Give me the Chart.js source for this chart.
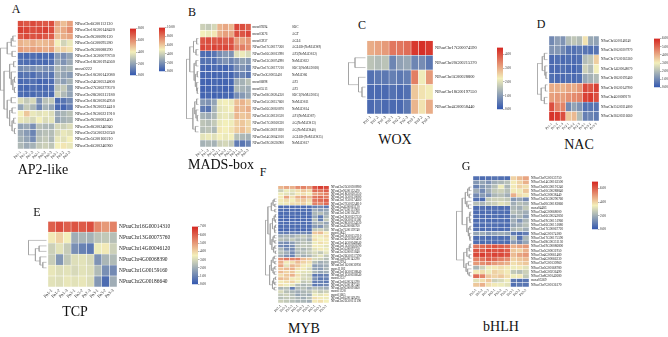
<!DOCTYPE html>
<html><head><meta charset="utf-8">
<script src="https://cdn.jsdelivr.net/npm/chart.js@4"></script>
<style>
html,body{margin:0;padding:0;background:#fff;width:668px;height:337px;overflow:hidden;position:relative;font-family:"Liberation Serif",serif;}
canvas{position:absolute;}
.t{position:absolute;transform:translate(-50%,-50%);white-space:nowrap;color:#111;line-height:1;font-family:"Liberation Serif",serif;}
</style></head><body>
<script>
// ---------- DATA ----------
const COLS = ["Pn1-1","Pn1-2","Pn1-3","Pn2-1","Pn2-2","Pn2-3","Pn3-1","Pn3-2","Pn3-3"];

const A_rows = ["NPuuChr6G00112130","NPuuChr10G00148420","NPuuChr9G00090120","NPuuChr5G00095280","NPuuChr9G00088290","NPuuChr13G00079730","NPuuChr18G00194560","moss0222","NPuuChr10G00142080","NPuuChr24G00534800","NPuuChr27G00279570","NPuuChr28G00312180","NPuuChr18G00204950","NPuuChr19G00224410","NPuuChr19G00221910","NPuuChr9G00083400","NPuuChr8G00246940","NPuuChr25G00326740","NPuuChr5G00160210","NPuuChr6G00246960"];
const A_vals = [
[7.2,7.0,7.3,7.1,7.0,7.2,5.5,5.0,5.6],[7.5,7.4,7.2,7.3,7.5,7.2,5.2,5.4,6.0],[7.0,7.3,7.1,7.2,7.0,6.9,5.0,5.3,5.5],
[5.2,5.0,5.3,5.0,5.1,5.3,4.0,3.3,3.8],[5.6,5.4,5.6,5.5,5.3,5.6,4.5,4.6,4.3],[0.6,0.5,0.6,0.5,0.6,0.5,1.8,1.5,2.0],
[0.7,0.6,0.5,0.6,0.5,0.7,2.0,1.6,2.2],[1.4,1.6,1.5,1.8,1.5,1.4,2.6,2.2,2.5],[0.7,0.8,0.6,1.0,1.0,0.8,2.3,2.0,1.8],
[0.5,0.6,0.7,0.4,0.5,0.6,2.2,1.9,2.4],[0.5,0.4,0.6,0.5,0.5,0.6,2.8,3.0,2.0],[0.6,0.5,0.5,0.7,0.6,0.5,3.2,2.6,2.0],
[3.5,3.0,3.4,1.5,2.8,3.0,0.6,0.8,1.3],[2.0,3.0,2.5,1.2,2.4,2.0,0.5,0.4,1.0],[4.0,4.8,3.8,3.6,3.8,3.5,2.2,2.5,2.8],
[3.8,3.6,3.4,4.0,3.5,3.7,2.0,2.4,2.6],[2.0,2.2,1.5,2.8,2.6,2.5,3.4,3.2,3.5],[2.2,1.8,1.2,2.6,2.8,2.7,3.4,3.8,3.6],
[2.4,2.0,1.4,2.8,3.0,2.6,3.8,3.6,4.0],[2.6,2.2,2.4,3.0,3.2,2.9,4.0,4.2,3.8]];
const A_tree = [[[[0,1,.2],2,.3],[3,4,.25],.55],[[[5,6,.15],[7,[[8,9,.1],[10,11,.1],.2],.3],.4],[[12,13,.3],[[14,15,.25],[[16,17,.15],[18,19,.1],.25],.4],.55],.75],.98];

const B_rows = ["moss09394","moss03676","moss03937","NPuuChr17G00177260","NPuuChr16G00013990","NPuuChr13G00074990","NPuuChr17G00177210","NPuuChr3G00053410","moss06898","moss05513","NPuuChr18G00204350","NPuuChr15G00157660","NPuuChr16G00050870","NPuuChr13G00130520","NPuuChr17G00168330","NPuuChr18G00191820","NPuuChr14G00043010","NPuuChr19G00226900"];
const B_genes = ["SOC","AGT","AGL6","AGL6B-(NoMADS9)","AP3(NoMADS12)","NoMADS22","SOC1(NoMADS18)","NoMADS6","AP3","AP3","SOC1(NoMADS15)","NoMADS11","NoMADS14","AP1(NoMADS7)","AG(NoMADS13)","AG(NoMADS40)","AGL6B-(NoMADS25)","NoMADS17"];
const B_vals = [
[4.0,3.8,4.2,6.5,6.8,6.4,9.2,9.0,8.6],[5.0,4.8,5.2,6.6,7.0,6.8,9.0,8.8,9.2],[8.8,9.0,8.7,8.9,8.6,8.8,7.0,6.8,7.2],
[9.2,9.0,9.3,9.1,9.2,9.0,7.6,7.8,7.4],[0.8,0.7,1.0,1.8,2.2,2.0,4.5,4.8,4.3],[0.9,1.0,0.8,1.6,2.0,1.5,2.0,2.5,2.2],
[0.6,0.5,0.7,0.6,0.5,0.8,1.8,2.0,1.5],[0.5,0.6,0.5,0.6,0.7,0.5,1.2,1.5,1.0],[0.5,0.4,0.6,0.5,0.5,0.6,2.8,3.0,3.5],
[0.4,0.5,0.5,0.6,0.4,0.5,3.2,3.0,2.8],[0.5,0.6,0.4,0.5,0.6,0.5,1.8,2.2,2.6],[2.2,2.0,2.5,4.8,5.0,4.8,6.2,6.5,6.0],
[1.2,1.0,3.0,4.6,4.8,5.0,6.5,6.3,6.6],[3.0,2.8,3.2,4.6,4.8,4.5,6.4,6.0,6.2],[3.6,3.4,3.8,4.8,5.0,4.9,5.8,6.0,5.6],
[3.4,3.6,3.2,5.2,5.0,5.3,5.9,6.2,5.7],[4.6,4.8,4.5,5.0,4.8,5.0,3.5,3.2,3.0],[3.0,3.2,3.0,4.0,4.2,3.8,1.2,1.0,1.5]];
const B_tree = [[[[0,1,.15],[2,3,.2],.4],[[4,5,.2],[[6,7,.1],[8,[9,10,.1],.15],.25],.35],.7],[[[11,12,.15],[13,[14,15,.1],.2],.3],[16,17,.25],.45],.98];

const C_rows = ["NPuuChr17G00074590","NPuuChr20G00215370","NPuuChr3G00028800","NPuuChr18G00197550","NPuuChr4G00058440"];
const C_vals = [
[3.0,3.1,3.2,3.6,3.6,3.7,4.3,4.4,4.3],[1.6,1.5,1.6,0.7,1.1,1.2,0.7,0.8,0.5],[0.4,0.5,0.5,0.6,0.5,0.6,3.5,2.2,3.2],
[0.3,0.3,0.3,0.4,0.3,0.4,2.7,2.4,2.3],[0.3,0.4,0.3,0.3,0.3,0.5,2.9,2.4,3.0]];
const C_tree = [[0,1,.6],[2,[3,4,.2],.4],.98];

const D_rows = ["NPuuChr5G00148240","NPuuChr20G00207970","NPuuChr17G00165360","NPuuChr14G00048070","NPuuChr18G00193460","NPuuChr10G00147900","NPuuChr4G00089170","NPuuChr25G00314800","NPuuChr26G00316660"];
const D_vals = [
[1.0,1.4,1.2,2.0,2.2,2.0,3.2,1.6,1.5],[1.2,1.3,1.0,0.6,0.5,0.7,0.6,0.5,0.6],[0.4,0.5,0.4,0.5,0.4,0.5,2.0,2.2,3.5],
[0.4,0.4,0.5,0.4,0.3,0.5,2.4,2.0,3.0],[0.5,0.4,0.4,0.5,0.4,0.5,1.6,1.8,2.0],[4.0,4.0,3.9,4.1,4.0,4.3,5.5,5.3,5.6],
[4.2,4.3,4.2,4.4,4.5,4.6,5.6,5.7,5.4],[5.4,4.6,4.6,1.0,1.5,1.2,0.5,0.6,0.6],[5.8,5.7,5.4,3.6,3.8,2.0,0.8,0.9,0.7]];
const D_tree = [[[0,1,.3],[2,[3,4,.15],.25],.5],[[5,6,.2],[7,8,.3],.6],.98];

const E_rows = ["NPuuChr16G00014310","NPuuChr13G00075760","NPuuChr14G00046120","NPuuChr4G00068390","NPuuChr1G00159160","NPuuChr2G00186640"];
const E_vals = [
[6.0,6.3,6.0,6.2,6.1,6.3,5.3,5.0,5.4],[3.6,4.0,3.5,2.0,2.2,2.1,2.5,2.6,2.4],[2.8,3.2,2.7,1.3,1.0,0.8,3.4,3.6,2.8],
[2.7,1.5,2.6,3.1,3.2,3.0,1.4,2.2,2.3],[3.3,3.1,3.2,3.0,3.2,3.1,2.3,1.3,1.2],[3.2,3.1,3.3,3.2,3.3,3.1,1.5,0.5,2.0]];
const E_tree = [0,[[1,2,.4],[3,[4,5,.2],.35],.6],.98];

const F_rows = ["NPuuChr25G00300980","NPuuChr9G00132470","NPuuChr18G00203250","NPuuChr13G00130080","NPuuChr17G00174660","NPuuChr27G00324810",
"NPuuChr4G00061120","NPuuChr7G00131900","NPuuChr1G00156470","NPuuChr19G00227230","NPuuChr20G00211580","NPuuChr28G00334230","NPuuChr4G00066760","NPuuChr7G00139740",
"moss03843","NPuuChr10G00152210","NPuuChr24G00285400","NPuuChr14G00048040","NPuuChr15G00160590","NPuuChr5G00097250","NPuuChr3G00031840","NPuuChr26G00317390",
"NPuuChr8G00143290","moss02294","NPuuChr11G00030950","moss11182","NPuuChr16G00238840","NPuuChr12G00036040","moss02537",
"NPuuChr6G00241290","NPuuChr2G00187340","NPuuChr9G00091660","moss01328","moss01665","NPuuChr6G00149470","NPuuChr22G00112190"];
const F_vals = [
[4.5,4.8,4.6,5.2,5.4,5.0,6.2,6.6,6.4],[2.8,3.4,3.2,3.8,4.2,3.9,5.8,5.6,6.0],[3.4,3.2,3.0,3.6,3.8,3.5,4.8,5.0,5.4],
[3.6,4.8,3.8,4.6,4.8,4.4,5.6,5.8,5.5],[3.6,3.8,3.5,4.0,4.2,3.8,5.6,5.8,6.0],[3.4,3.6,3.8,3.8,4.0,3.6,5.4,5.2,5.8],
[0.5,0.6,0.5,0.6,0.5,0.6,1.0,1.2,0.8],[0.6,0.5,0.6,0.5,0.6,0.5,2.0,1.6,1.8],[0.5,0.5,0.6,0.5,0.5,0.6,2.2,2.4,2.0],
[0.4,0.5,0.4,0.5,0.5,0.4,1.8,0.8,2.2],[0.5,0.4,0.5,0.4,0.5,0.5,2.4,1.0,2.6],[0.6,0.5,0.6,0.6,0.5,0.6,2.0,2.2,1.8],
[0.5,0.6,0.5,0.5,0.6,0.5,1.6,1.4,2.2],[0.4,0.4,0.5,0.4,0.4,0.5,2.6,2.8,2.4],[1.0,0.9,1.1,1.0,1.2,1.0,4.2,4.4,3.6],
[2.0,2.2,2.0,2.4,2.6,2.2,3.6,3.4,3.8],[2.4,2.2,2.6,2.2,2.4,2.0,3.8,3.5,3.6],[1.4,1.2,1.6,2.2,2.5,2.4,3.4,3.8,3.6],
[1.2,1.0,1.3,2.4,2.6,2.5,3.6,3.4,3.2],[2.2,1.3,1.2,2.4,2.2,2.5,3.2,3.6,3.4],[2.4,2.0,1.2,2.2,2.4,2.6,3.0,2.6,3.2],
[2.0,1.4,1.0,2.4,2.0,2.2,2.8,3.2,2.6],[5.2,5.6,5.4,5.4,4.4,4.2,3.0,2.8,2.4],[4.6,3.6,3.8,4.4,4.0,3.8,2.4,2.0,2.2],
[4.8,3.2,4.5,4.2,3.6,3.4,1.6,1.8,2.0],[4.2,4.4,4.6,3.8,3.6,3.0,1.8,1.6,2.2],[4.4,4.0,4.2,3.4,3.2,3.2,2.2,1.8,2.0],
[3.8,4.2,4.6,3.8,3.0,2.8,0.8,0.9,1.0],[4.4,4.2,3.6,3.6,3.0,3.0,1.4,0.8,1.0],[3.6,3.8,4.0,3.4,2.6,2.8,0.9,1.0,0.8],
[3.8,3.4,3.2,2.4,2.2,2.4,0.8,1.0,1.2],[2.2,2.4,0.9,2.2,2.4,2.0,2.4,2.2,2.0],[3.0,2.4,2.2,2.0,2.2,2.4,3.0,2.6,2.8],
[2.6,2.8,2.4,1.8,2.2,2.0,3.4,3.2,3.6],[2.4,2.6,2.5,2.2,2.0,2.4,3.8,3.6,3.4],[2.8,2.6,2.4,2.2,2.2,2.0,3.6,3.8,3.5]];
const F_top = [[[0,1,.2],[2,3,.15],.3],[4,5,.15],.45];
const F_blue = [[[6,7,.1],[8,9,.1],.2],[[10,11,.1],[12,13,.15],.2],.35];
const F_mid = [[[14,15,.2],[16,17,.15],.3],[[18,19,.15],[20,21,.1],.25],.4];
const F_red = [[[22,23,.2],[24,25,.15],.3],[[26,27,.15],[28,29,.2],.3],.45];
const F_bot = [[[30,31,.1],[32,33,.15],.25],[34,35,.2],.35];
const F_tree = [[F_top,[F_blue,F_mid,.55],.75],[F_red,F_bot,.6],.98];

const G_rows = ["NPuuChr7G00135750","NPuuChr14G00163500","NPuuChr20G00191240","NPuuChr10G00288840","NPuuChr3G00038440","NPuuChr23G00290760","NPuuChr20G00183860","moss04483","NPuuChr4G00068000","NPuuChr16G00242850","NPuuChr19G00151960","NPuuChr16G00151880","NPuuChr17G00067720","NPuuChr4G00174180","NPuuChr17G00175590","NPuuChr28G00331130","NPuuChr19G00086800","NPuuChr5G00031950","NPuuChr4G00061480","NPuuChr4G00066230","NPuuChr7G00130960","NPuuChr5G00168780","NPuuChr6G00236490","NPuuChr8G00142680","moss05369","NPuuChr7G00136170"];
const G_vals = [
[0.6,0.5,0.6,0.7,0.6,0.5,4.0,4.4,4.8],[1.5,1.8,1.4,2.0,2.2,2.4,3.6,4.0,4.6],[1.0,1.5,1.8,2.4,3.4,2.2,3.6,4.0,3.8],
[2.0,1.2,2.0,2.6,2.8,2.4,3.6,3.4,4.2],[1.2,1.6,1.4,2.2,2.4,2.0,4.6,3.8,3.6],[0.6,0.5,2.6,2.8,2.8,2.6,1.5,1.8,1.2],
[2.4,2.2,2.6,2.8,3.2,3.0,2.0,2.4,2.2],[0.5,0.6,0.5,0.6,0.5,0.6,2.2,2.0,2.6],[0.5,0.5,0.6,0.5,0.6,0.5,2.4,2.2,2.0],
[0.6,0.5,0.5,0.6,0.5,0.6,1.8,2.2,1.6],[0.5,0.6,0.5,0.5,0.6,0.5,2.0,1.4,2.2],[0.5,0.5,0.6,0.6,0.5,0.5,1.8,2.0,2.4],
[0.6,0.5,0.6,0.5,0.5,0.6,2.2,2.4,2.0],[1.8,2.0,1.6,1.8,2.0,1.8,0.8,0.6,0.9],[0.5,0.6,0.5,0.6,0.5,0.6,2.4,0.6,2.2],
[0.6,0.5,0.6,0.5,0.6,0.5,1.6,1.2,1.8],[5.6,5.8,6.0,6.2,6.0,5.8,4.6,4.8,5.0],[6.2,6.0,6.4,6.2,6.3,6.0,4.2,4.0,4.6],
[6.4,6.6,6.3,6.5,6.4,6.2,4.4,4.8,5.0],[5.4,5.6,6.0,5.8,5.4,5.2,4.0,4.2,4.4],[5.0,5.2,5.4,5.0,4.8,4.6,3.8,4.0,4.2],
[2.2,2.8,3.4,3.6,3.8,3.6,3.4,3.6,3.2],[3.6,3.8,3.4,4.0,3.8,3.6,2.6,2.4,2.8],[5.8,5.4,4.2,4.0,4.2,3.8,3.4,3.6,2.6],
[3.2,3.8,4.2,2.8,3.0,3.4,0.8,0.6,0.7],[4.2,4.6,3.8,3.6,3.4,3.2,0.6,0.8,0.7]];
const G_tree = [[[[[0,1,.15],[2,3,.15],.25],[4,[5,6,.2],.3],.4],[[[7,8,.1],[9,10,.1],.15],[[11,12,.1],[13,[14,15,.1],.15],.2],.3],.6],[[[[16,17,.1],18,.15],[19,20,.15],.3],[[21,22,.2],[23,[24,25,.15],.25],.35],.5],.98];

// colour-bar scales (max, step)
const CB_A = [8, 1], CB_B = [10, 2], CB_C = [4.5, 0.5], CB_D = [6, 1], CB_E = [7, 1], CB_G = [7, 1];

// ---------- RENDERING ----------
Chart.defaults.font.family = '"Liberation Serif", serif';
Chart.defaults.color = '#222';
const LOW=[49,86,176], MID=[243,239,186], HIGH=[213,38,32];
function mix(a,b,t){return a.map((v,i)=>Math.round(v+(b[i]-v)*t));}
function colorAt(f){f=Math.max(0,Math.min(1,f));const c=f<0.5?mix(LOW,MID,f/0.5):mix(MID,HIGH,(f-0.5)/0.5);return `rgb(${c[0]},${c[1]},${c[2]})`;}

function buildFitted(make, W, H, tl, tt, tw, th){
  let canvas, chart;
  for(let k=0;k<3;k++){
    canvas=document.createElement('canvas');
    canvas.width=Math.round(W); canvas.height=Math.round(H);
    canvas.style.width=Math.round(W)+'px'; canvas.style.height=Math.round(H)+'px';
    document.body.appendChild(canvas);
    chart=make(canvas);
    const ca=chart.chartArea;
    const dw=tw-(ca.right-ca.left), dh=th-(ca.bottom-ca.top);
    if(k<2 && (Math.abs(dw)>0.6||Math.abs(dh)>0.6)){chart.destroy();canvas.remove();W+=dw;H+=dh;continue;}
    canvas.style.left=(tl-ca.left)+'px'; canvas.style.top=(tt-ca.top)+'px';
    break;
  }
  return chart;
}

function heatmap(o){
  const n=o.rows.length, colW=(o.heatR-o.heatL)/9, D=(o.heatL-o.dendroL)/colW;
  const gap=1.5/colW;
  const pts=[];
  (function walk(node){
    if(typeof node==='number') return {y:node,x:-gap};
    const l=walk(node[0]), r=walk(node[1]);
    const x=-gap-node[2]*(D-gap);
    pts.push({x:l.x,y:l.y},{x:x,y:l.y},{x:x,y:r.y},{x:r.x,y:r.y},{x:null,y:null});
    return {y:(l.y+r.y)/2,x:x};
  })(o.tree);
  const datasets=COLS.map((c,ci)=>({
    type:'bar', data:o.rows.map(()=>[ci,ci+1]),
    backgroundColor:o.vals.map(r=>colorAt(r[ci]/o.max)),
    borderColor:'rgba(255,255,255,0.85)', borderWidth:0.5, borderSkipped:false,
    grouped:false, barPercentage:1, categoryPercentage:1, xAxisID:'x', yAxisID:'y'
  }));
  datasets.push({type:'line',indexAxis:'x',data:pts,xAxisID:'x',yAxisID:'yd',borderColor:'#9a9a9a',borderWidth:0.6,pointRadius:0,fill:false,tension:0,spanGaps:false,clip:false});
  const scales={
    x:{type:'linear',min:-D,max:9,bounds:'data',position:'bottom',grid:{display:false,drawTicks:false},border:{display:false},
       afterBuildTicks:s=>{s.ticks=COLS.map((_,i)=>({value:i+0.5}));},
       ticks:{autoSkip:false,minRotation:45,maxRotation:45,padding:1,font:{size:o.colFont},callback:v=>COLS[Math.round(v-0.5)]},
       afterFit:s=>{s.height=o.xH;}},
    y:{type:'category',labels:o.rows,position:'right',offset:true,grid:{display:false,drawTicks:false},border:{display:false},
       ticks:{autoSkip:false,padding:o.pad||2,font:{size:o.rowFont}},afterFit:s=>{s.width=o.yW;}},
    yd:{type:'linear',display:false,min:-0.5,max:n-0.5,reverse:true}
  };
  if(o.genes){
    scales.y2={type:'category',labels:o.genes,position:'right',offset:true,grid:{display:false,drawTicks:false},border:{display:false},
       ticks:{autoSkip:false,padding:0,font:{size:o.rowFont}},afterFit:s=>{s.width=o.y2W;}};
  }
  const tw=o.heatR-o.dendroL, th=o.bottom-o.top;
  const W=tw+o.yW+(o.genes?o.y2W:0), H=th+o.xH;
  return buildFitted(cv=>new Chart(cv,{type:'bar',data:{labels:o.rows,datasets},
    options:{indexAxis:'y',responsive:false,maintainAspectRatio:false,animation:false,events:[],devicePixelRatio:1,
      layout:{padding:0},plugins:{legend:{display:false},tooltip:{enabled:false},title:{display:false}},scales}}),
    W,H,o.dendroL,o.top,tw,th);
}

function colorbar(o){
  const grad=(c)=>{const ch=c.chart, ca=ch.chartArea; if(!ca) return colorAt(0.5);
    const g=ch.ctx.createLinearGradient(0,ca.bottom,0,ca.top);
    g.addColorStop(0,colorAt(0));g.addColorStop(0.25,colorAt(0.25));g.addColorStop(0.5,colorAt(0.5));g.addColorStop(0.75,colorAt(0.75));g.addColorStop(1,colorAt(1));return g;};
  const lw=18;
  return buildFitted(cv=>new Chart(cv,{type:'bar',data:{labels:[''],datasets:[{data:[[0,o.max]],backgroundColor:grad,borderWidth:0,barPercentage:1,categoryPercentage:1}]},
    options:{responsive:false,maintainAspectRatio:false,animation:false,events:[],devicePixelRatio:1,layout:{padding:0},
      plugins:{legend:{display:false},tooltip:{enabled:false}},
      scales:{x:{display:false},
        y:{position:'right',min:0,max:o.max,grid:{display:true,drawOnChartArea:false,tickLength:1.5,color:'#666',lineWidth:0.5},border:{display:false},
           ticks:{stepSize:o.step,padding:0.5,font:{size:3.4},callback:v=>Number(v).toFixed(2)},afterFit:s=>{s.width=lw;}}}}}),
    o.w+lw,o.h+6,o.left,o.top,o.w,o.h);
}

heatmap({rows:A_rows,vals:A_vals,tree:A_tree,max:CB_A[0],dendroL:0,heatL:17.5,heatR:72.7,top:20.7,bottom:149,yW:55,xH:14,rowFont:4.2,colFont:3.8});
heatmap({rows:B_rows,genes:B_genes,vals:B_vals,tree:B_tree,max:CB_B[0],dendroL:186,heatL:200,heatR:251,top:23,bottom:147,yW:41,y2W:45,xH:14,rowFont:3.3,colFont:3.8,pad:1.5});
heatmap({rows:C_rows,vals:C_vals,tree:C_tree,max:CB_C[0],dendroL:348,heatL:367,heatR:433,top:41,bottom:114,yW:50,xH:14,rowFont:4.4,colFont:4});
heatmap({rows:D_rows,vals:D_vals,tree:D_tree,max:CB_D[0],dendroL:537,heatL:549,heatR:599,top:36,bottom:121,yW:45,xH:14,rowFont:3.3,colFont:3.4});
heatmap({rows:E_rows,vals:E_vals,tree:E_tree,max:CB_E[0],dendroL:28,heatL:48,heatR:117,top:221,bottom:287,yW:65,xH:16,rowFont:5.4,colFont:4.4});
heatmap({rows:F_rows,vals:F_vals,tree:F_tree,max:CB_E[0],dendroL:265,heatL:278,heatR:329,top:186,bottom:303,yW:45,xH:14,rowFont:3.2,colFont:3.6});
heatmap({rows:G_rows,vals:G_vals,tree:G_tree,max:CB_G[0],dendroL:456,heatL:473,heatR:529,top:176,bottom:287,yW:45,xH:14,rowFont:3.4,colFont:3.6});

colorbar({left:130,top:29,w:6,h:47,max:CB_A[0],step:CB_A[1]});
colorbar({left:159,top:28,w:6,h:44,max:CB_B[0],step:CB_B[1]});
colorbar({left:497,top:48,w:6,h:62,max:CB_C[0],step:CB_C[1]});
colorbar({left:654,top:39,w:6,h:49,max:CB_D[0],step:CB_D[1]});
colorbar({left:192,top:227,w:6,h:58,max:CB_E[0],step:CB_E[1]});
colorbar({left:592,top:182,w:6,h:48,max:CB_G[0],step:CB_G[1]});

// panel letters and family titles
const TEXTS=[["A",16,9,12],["B",192,12,12],["C",362,25,12],["D",541,24,12],["E",37,212,12],["F",263,172,12],["G",466,166,12],
["AP2-like",43,170,14],["MADS-box",221,165,14],["WOX",395,140,14],["NAC",579,145,14],["TCP",75,312,14],["MYB",304,329,14],["bHLH",501,327,14]];
TEXTS.forEach(([s,x,y,f])=>{const d=document.createElement('div');d.className='t';d.textContent=s;d.style.left=x+'px';d.style.top=y+'px';d.style.fontSize=f+'px';document.body.appendChild(d);});
</script>
</body></html>
